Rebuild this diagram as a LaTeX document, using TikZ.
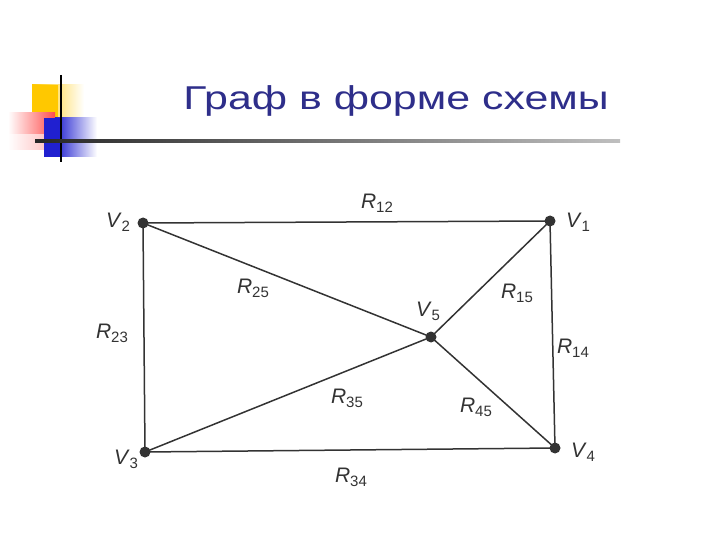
\documentclass[tikz,border=0pt]{standalone}
\usepackage{fontspec}
\setmainfont{Liberation Sans}
\usepackage{tikz}
\usetikzlibrary{positioning}

\definecolor{titleblue}{HTML}{2E2E8A}
\definecolor{edgegray}{HTML}{333333}
\definecolor{iconyellow}{HTML}{FFC800}
\definecolor{iconred}{HTML}{FF2020}
\definecolor{iconblue}{HTML}{2020D0}

\newcommand{\lbl}[2]{\textit{#1}\raisebox{-4pt}{\fontsize{15}{16}\selectfont #2}}

\begin{document}
\begin{tikzpicture}[x=1pt, y=-1pt,
  vertex/.style={circle, fill=edgegray, inner sep=0pt, minimum size=11pt},
  edge/.style={draw=edgegray, line width=1.5pt},
  lab/.style={font=\fontsize{21}{23}\selectfont, text=edgegray, inner sep=1pt}]
\useasboundingbox (0,0) rectangle (720,540);
% icon
\shade[left color=iconyellow, right color=white] (32,85) rectangle (84,118);
\fill[iconyellow] (32,85) rectangle (58,118);
\shade[left color=white, right color=iconred!80] (8,113) rectangle (55,150);
\shade[top color=iconred!0, bottom color=white, opacity=0.6] (8,135) rectangle (55,150);
\shade[left color=iconblue, right color=white] (55,118) rectangle (97,157);
\fill[iconblue] (44,118) rectangle (62,157);
\draw[black, line width=2.5pt] (61,75) -- (61,162);
\shade[left color=black!85, right color=black!25] (35,140) rectangle (620,142.5);
\node (title) [font=\fontsize{33}{36}\selectfont, text=titleblue, xscale=1.3] at (396,101) {Граф в форме схемы};

\node (v2) [vertex] at (143,223) {};
\node (v1) [vertex] at (550,221) {};
\node (v5) [vertex] at (431,337) {};
\node (v3) [vertex] at (145,452) {};
\node (v4) [vertex] at (555,448) {};

\draw[edge] (v2.center) -- (v1.center);
\draw[edge] (v2.center) -- (v3.center);
\draw[edge] (v3.center) -- (v4.center);
\draw[edge] (v1.center) -- (v4.center);
\draw[edge] (v2.center) -- (v5.center);
\draw[edge] (v1.center) -- (v5.center);
\draw[edge] (v3.center) -- (v5.center);
\draw[edge] (v4.center) -- (v5.center);

\node (lv2) [lab] at (118,222) {\lbl{V}{2}};
\node (lv1) [lab] at (578,222) {\lbl{V}{1}};
\node (lv5) [lab] at (428,311) {\lbl{V}{5}};
\node (lv3) [lab] at (126,459) {\lbl{V}{3}};
\node (lv4) [lab] at (583,452) {\lbl{V}{4}};
\node (r12) [lab] at (377,203) {\lbl{R}{12}};
\node (r25) [lab] at (253,288) {\lbl{R}{25}};
\node (r15) [lab] at (517,293) {\lbl{R}{15}};
\node (r23) [lab] at (112,333) {\lbl{R}{23}};
\node (r14) [lab] at (573,348) {\lbl{R}{14}};
\node (r35) [lab] at (347,398) {\lbl{R}{35}};
\node (r45) [lab] at (476,407) {\lbl{R}{45}};
\node (r34) [lab] at (351,477) {\lbl{R}{34}};
\end{tikzpicture}
\end{document}
